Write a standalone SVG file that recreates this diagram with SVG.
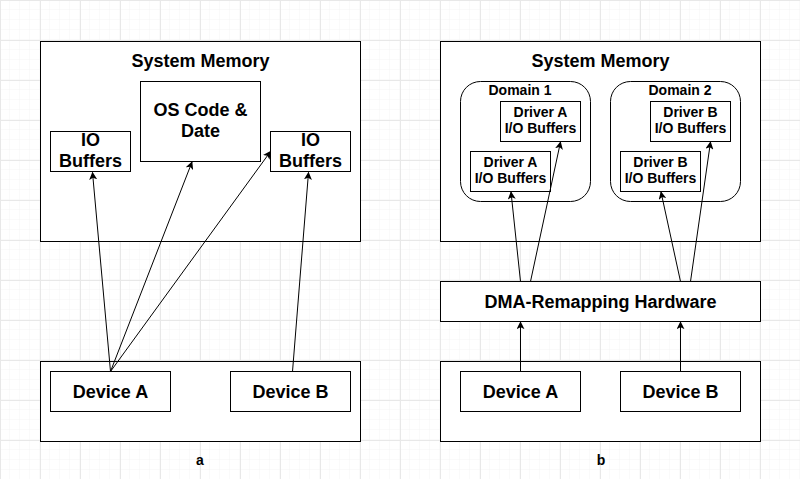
<svg xmlns="http://www.w3.org/2000/svg" width="800" height="479" viewBox="0 0 800 479">
<style>
.box{fill:#fff;stroke:#000;stroke-width:1}
.t18{font-family:"Liberation Sans",Arial,sans-serif;font-size:18px;font-weight:bold;fill:#000;text-anchor:middle}
.t14{font-family:"Liberation Sans",Arial,sans-serif;font-size:14px;font-weight:bold;fill:#000;text-anchor:middle}
.edge{stroke:#000;stroke-width:1;fill:none;marker-end:url(#arr)}
</style>
<defs>
<pattern id="minor" width="10" height="10" patternUnits="userSpaceOnUse">
<path d="M10 0V10M0 10H10" stroke="#f4f4f4" stroke-width="1" fill="none"/>
</pattern>
<pattern id="major" width="40" height="40" patternUnits="userSpaceOnUse">
<rect width="40" height="40" fill="url(#minor)"/>
<path d="M0.5 0V40M0 0.5H40" stroke="#e8e8e8" stroke-width="1" fill="none"/>
</pattern>
<marker id="arr" viewBox="0 0 10 10" refX="9" refY="5" markerWidth="8" markerHeight="8" markerUnits="userSpaceOnUse" orient="auto">
<path d="M0,0 L10,5 L0,10 L2.5,5 Z" fill="#000"/>
</marker>
</defs>
<rect width="800" height="479" fill="#fff"/>
<rect width="800" height="479" fill="url(#major)"/>

<g id="left-memory">
<rect class="box" x="40.5" y="41.5" width="320" height="200"/>
<text class="t18" x="200.5" y="67">System Memory</text>
</g>
<g id="os-code">
<rect class="box" x="140.5" y="81.5" width="120" height="80"/>
<text class="t18" x="200.5" y="116">OS Code &amp;</text>
<text class="t18" x="200.5" y="137">Date</text>
</g>
<g id="io-buffers-left">
<rect class="box" x="50.5" y="131.5" width="80" height="40"/>
<text class="t18" x="90.5" y="146">IO</text>
<text class="t18" x="90.5" y="167">Buffers</text>
</g>
<g id="io-buffers-right">
<rect class="box" x="270.5" y="131.5" width="80" height="40"/>
<text class="t18" x="310.5" y="146">IO</text>
<text class="t18" x="310.5" y="167">Buffers</text>
</g>
<g id="left-devices">
<rect class="box" x="40.5" y="361.5" width="320" height="80"/>
</g>
<g id="device-a-left">
<rect class="box" x="50.5" y="371.5" width="120" height="40"/>
<text class="t18" x="110.5" y="398">Device A</text>
</g>
<g id="device-b-left">
<rect class="box" x="230.5" y="371.5" width="120" height="40"/>
<text class="t18" x="290.5" y="398">Device B</text>
</g>
<g id="label-a"><text class="t14" x="200" y="465">a</text></g>

<g id="right-memory">
<rect class="box" x="440.5" y="41.5" width="320" height="200"/>
<text class="t18" x="600.5" y="67">System Memory</text>
</g>
<g id="domain1">
<rect class="box" x="460.5" y="81.5" width="130" height="120" rx="20" ry="20"/>
<text class="t14" x="520" y="95">Domain 1</text>
</g>
<g id="driver-a-top">
<rect class="box" x="500.5" y="101.5" width="80" height="40"/>
<text class="t14" x="540.5" y="117">Driver A</text>
<text class="t14" x="540.5" y="133">I/O Buffers</text>
</g>
<g id="driver-a-bottom">
<rect class="box" x="470.5" y="151.5" width="80" height="40"/>
<text class="t14" x="510.5" y="167">Driver A</text>
<text class="t14" x="510.5" y="183">I/O Buffers</text>
</g>
<g id="domain2">
<rect class="box" x="610.5" y="81.5" width="130" height="120" rx="20" ry="20"/>
<text class="t14" x="680" y="95">Domain 2</text>
</g>
<g id="driver-b-top">
<rect class="box" x="650.5" y="101.5" width="80" height="40"/>
<text class="t14" x="690.5" y="117">Driver B</text>
<text class="t14" x="690.5" y="133">I/O Buffers</text>
</g>
<g id="driver-b-bottom">
<rect class="box" x="620.5" y="151.5" width="80" height="40"/>
<text class="t14" x="660.5" y="167">Driver B</text>
<text class="t14" x="660.5" y="183">I/O Buffers</text>
</g>
<g id="dma">
<rect class="box" x="440.5" y="281.5" width="320" height="40"/>
<text class="t18" x="600.5" y="308">DMA-Remapping Hardware</text>
</g>
<g id="right-devices">
<rect class="box" x="440.5" y="361.5" width="320" height="80"/>
</g>
<g id="device-a-right">
<rect class="box" x="460.5" y="371.5" width="120" height="40"/>
<text class="t18" x="520.5" y="398">Device A</text>
</g>
<g id="device-b-right">
<rect class="box" x="620.5" y="371.5" width="120" height="40"/>
<text class="t18" x="680.5" y="398">Device B</text>
</g>
<g id="label-b"><text class="t14" x="601" y="465">b</text></g>

<g id="connectors">
<line class="edge" x1="110.5" y1="371.5" x2="92.5" y2="172.5"/>
<line class="edge" x1="110.5" y1="371.5" x2="192" y2="162"/>
<line class="edge" x1="110.5" y1="371.5" x2="270.5" y2="151.5"/>
<line class="edge" x1="292.5" y1="371.5" x2="308.5" y2="172.5"/>
<line class="edge" x1="520.5" y1="281.5" x2="511" y2="192"/>
<line class="edge" x1="530.5" y1="281.5" x2="560.5" y2="142"/>
<line class="edge" x1="680.5" y1="281.5" x2="661" y2="192"/>
<line class="edge" x1="690.5" y1="281.5" x2="710.5" y2="142"/>
<line class="edge" x1="520.5" y1="371.5" x2="520.5" y2="322"/>
<line class="edge" x1="680.5" y1="371.5" x2="680.5" y2="322"/>
</g>
</svg>
